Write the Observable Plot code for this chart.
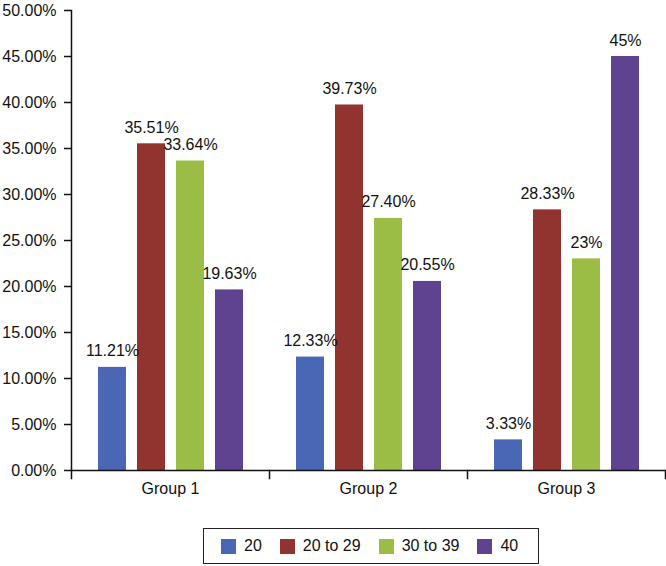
<!DOCTYPE html>
<html><head><meta charset="utf-8">
<script src="https://cdn.jsdelivr.net/npm/d3@7"></script>
<script src="https://cdn.jsdelivr.net/npm/@observablehq/plot@0.6"></script>
<style>
body{margin:0;background:#fff;font-family:"Liberation Sans",Arial,sans-serif;}
#legend{box-sizing:border-box;margin:28px 0 0 203px;width:336px;height:36px;border:1.5px solid #222;display:flex;align-items:center;padding:0 17px;gap:18px;font-size:16px;color:#111}
.item{display:flex;align-items:center;gap:8px}
.sw{width:15px;height:15px;display:inline-block}
</style></head><body><div id="chart"></div><div id="legend"></div>
<script>
const groups = ["Group 1", "Group 2", "Group 3"];
const series = ["20", "20 to 29", "30 to 39", "40"];
const values20 = [11.21, 12.33, 3.33];
const values20to29 = [35.51, 39.73, 28.33];
const values30to39 = [33.64, 27.40, 23];
const values40 = [19.63, 20.55, 45];
const labels20 = ["11.21%", "12.33%", "3.33%"];
const labels20to29 = ["35.51%", "39.73%", "28.33%"];
const labels30to39 = ["33.64%", "27.40%", "23%"];
const labels40 = ["19.63%", "20.55%", "45%"];
const yTicks = [0, 5, 10, 15, 20, 25, 30, 35, 40, 45, 50];
const colors = ["#4a67b5", "#913430", "#9bbd45", "#5f4391"];

const values = [values20, values20to29, values30to39, values40];
const labels = [labels20, labels20to29, labels30to39, labels40];
const data = [];
series.forEach((s, i) => groups.forEach((g, j) => data.push({group: g, series: s, value: values[i][j], label: labels[i][j]})));

const chart = Plot.plot({
  width: 666, height: 500,
  marginTop: 10, marginBottom: 30, marginLeft: 70, marginRight: 1,
  style: {fontFamily: "'Liberation Sans', Arial, sans-serif", fontSize: "16px", color: "#111"},
  fx: {domain: groups, padding: 0, label: null, axis: null},
  x: {domain: series, paddingInner: 0.29, paddingOuter: 0.66, axis: null},
  y: {domain: [0, 50], axis: null},
  color: {domain: series, range: colors},
  marks: [
    Plot.barY(data, {fx: "group", x: "series", y: "value", fill: "series"}),
    Plot.text(data, {fx: "group", x: "series", y: "value", text: "label", lineAnchor: "bottom", dy: -11, fontSize: 16, fill: "#111"}),
    Plot.ruleY([0], {stroke: "#111", strokeWidth: 1.5}),
    Plot.frame({anchor: "right", insetTop: 460, insetBottom: -8, stroke: "#111", strokeWidth: 1.5}),
    Plot.frame({anchor: "left", facetAnchor: "left", insetBottom: -8, stroke: "#111", strokeWidth: 1.5}),
    Plot.axisY({ticks: yTicks, tickSize: 7, tickPadding: 8, tickFormat: d => d.toFixed(2) + "%", fontSize: 16, label: null, strokeWidth: 1.5}),
    Plot.axisFx({anchor: "bottom", tickSize: 0, tickPadding: 12, label: null, fontSize: 16})
  ]
});
document.getElementById("chart").append(chart);

const legend = document.getElementById("legend");
series.forEach((s, i) => {
  const it = document.createElement("div");
  it.className = "item";
  const sw = document.createElement("span");
  sw.className = "sw";
  sw.style.background = colors[i];
  const t = document.createElement("span");
  t.textContent = s;
  it.append(sw, t);
  legend.append(it);
});
</script></body></html>
